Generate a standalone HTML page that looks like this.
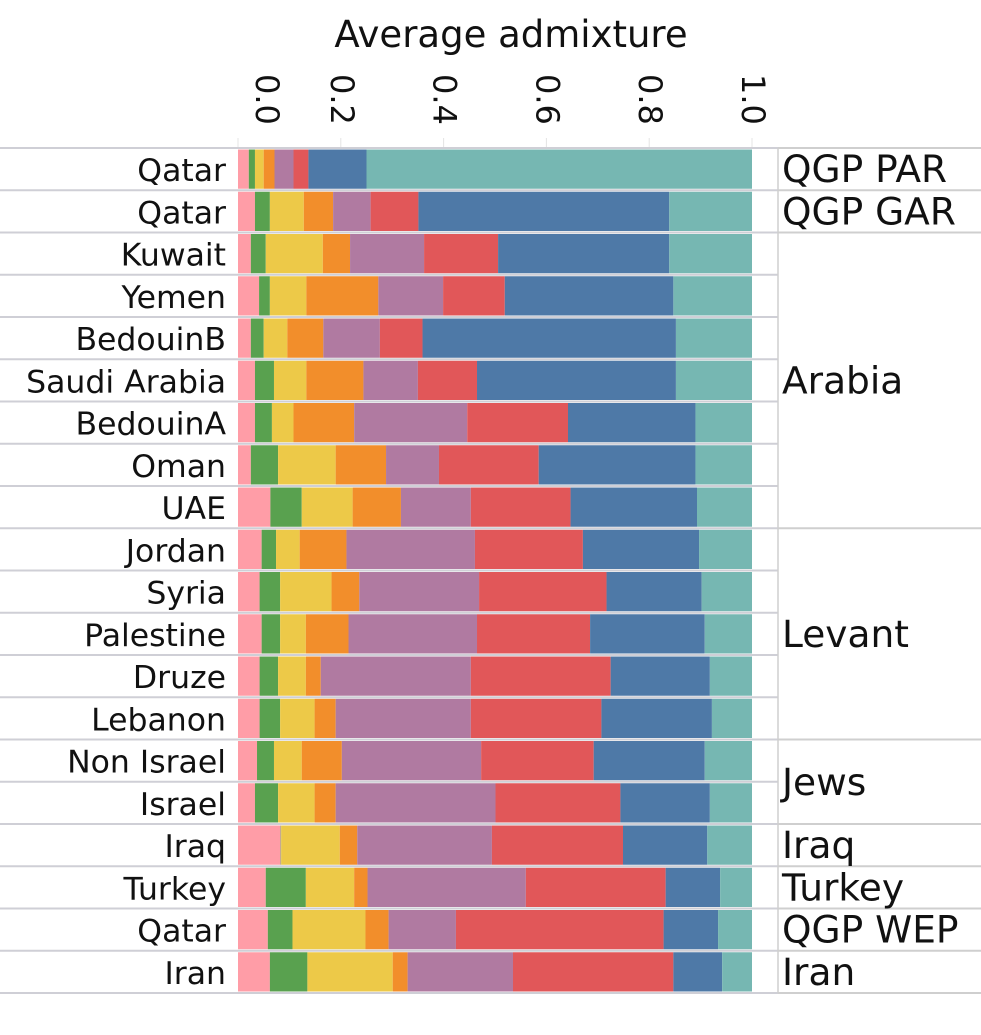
<!DOCTYPE html>
<html><head><meta charset="utf-8"><style>
body{margin:0;background:#fff;}
svg{display:block;font-family:"DejaVu Sans","Liberation Sans",sans-serif;}
</style></head><body>
<svg id="chart" width="981" height="1035" viewBox="0 0 981 1035" xmlns="http://www.w3.org/2000/svg">
<text x="511" y="47" text-anchor="middle" font-size="37" fill="#111">Average admixture</text>
</svg>
<script>
const categories = ["Qatar","Qatar","Kuwait","Yemen","BedouinB","Saudi Arabia","BedouinA","Oman","UAE","Jordan","Syria","Palestine","Druze","Lebanon","Non Israel","Israel","Iraq","Turkey","Qatar","Iran"];
const groups = [["QGP PAR",0,0],["QGP GAR",1,1],["Arabia",2,8],["Levant",9,13],["Jews",14,15],["Iraq",16,16],["Turkey",17,17],["QGP WEP",18,18],["Iran",19,19]];
const tickLabels = ["0.0","0.2","0.4","0.6","0.8","1.0"];
const tickValues = [0,0.2,0.4,0.6,0.8,1.0];
const colors = ["#ff9da7","#59a14f","#edc948","#f28e2b","#b07aa1","#e15759","#4e79a7","#76b7b2"];
const cumulative = [
[.021,.033,.050,.071,.108,.137,.250],
[.033,.062,.128,.185,.258,.351,.839],
[.025,.054,.165,.218,.362,.506,.839],
[.041,.062,.133,.273,.399,.519,.847],
[.025,.050,.096,.166,.276,.359,.852],
[.033,.070,.133,.244,.350,.465,.852],
[.033,.066,.108,.226,.446,.642,.890],
[.025,.078,.190,.288,.391,.585,.890],
[.063,.124,.223,.317,.453,.647,.893],
[.046,.074,.120,.211,.461,.671,.897],
[.042,.082,.182,.236,.469,.717,.902],
[.046,.082,.132,.215,.465,.685,.908],
[.042,.078,.132,.161,.453,.725,.918],
[.042,.082,.149,.190,.453,.707,.922],
[.037,.070,.124,.202,.473,.692,.908],
[.033,.078,.149,.190,.501,.744,.918],
[.083,.084,.198,.232,.494,.749,.913],
[.054,.132,.226,.252,.560,.832,.938],
[.058,.106,.248,.293,.424,.828,.934],
[.062,.135,.301,.330,.535,.847,.942]
];
const svg = document.getElementById('chart');
const NS = "http://www.w3.org/2000/svg";
const X0 = 238, X1 = 752, Y0 = 148, PITCH = 42.25;
const x = v => X0 + v * (X1 - X0);
const rowTop = i => Y0 + i * PITCH;
function mk(tag, attrs){const e=document.createElementNS(NS,tag);for(const k in attrs)e.setAttribute(k,attrs[k]);svg.appendChild(e);return e;}
tickValues.forEach((t,i)=>{
  const l = mk('line',{x1:x(t),x2:x(t),y1:138,y2:148,stroke:'#e4e4e4','stroke-width':1});
  
  
  const lx = i===0 ? x(t)+29 : x(t)+1;
  const tx = mk('text',{x:0,y:0,'font-size':32,fill:'#111','text-anchor':'start','dominant-baseline':'central',transform:`translate(${lx},74) rotate(90)`});
  tx.textContent = tickLabels[i];
  
  
});
cumulative.forEach((row,i)=>{
  const bounds=[0,...row,1];
  for(let k=0;k<8;k++){
    const r = mk('rect',{x:x(bounds[k]),y:rowTop(i)+1.5,width:Math.max(0,x(bounds[k+1])-x(bounds[k])),height:PITCH-3,fill:colors[k]});
    
    
  }
  const t = mk('text',{x:226,y:rowTop(i)+33,'text-anchor':'end','font-size':31.5,fill:'#111'});
  t.textContent = categories[i];
  
  
});
for(let i=0;i<=20;i++){
  const g = mk('line',{x1:0,x2:778,y1:rowTop(i),y2:rowTop(i),stroke:'#cfcfd6','stroke-width':2});
  
  
}
const vl = mk('line',{x1:778,x2:778,y1:Y0,y2:rowTop(20),stroke:'#cfcfcf','stroke-width':1.5});


groups.forEach((g,i)=>{
  const top=rowTop(g[1]), bot=rowTop(g[2]+1);
  const gl = mk('line',{x1:778,x2:981,y1:bot,y2:bot,stroke:'#cfcfcf','stroke-width':2});
  
  
  const t = mk('text',{x:782,y:(top+bot)/2+13,'font-size':37.5,fill:'#111'});
  t.textContent = g[0];
  
  
});
const tl = mk('line',{x1:778,x2:981,y1:Y0,y2:Y0,stroke:'#cfcfcf','stroke-width':2});


</script>
</body></html>
